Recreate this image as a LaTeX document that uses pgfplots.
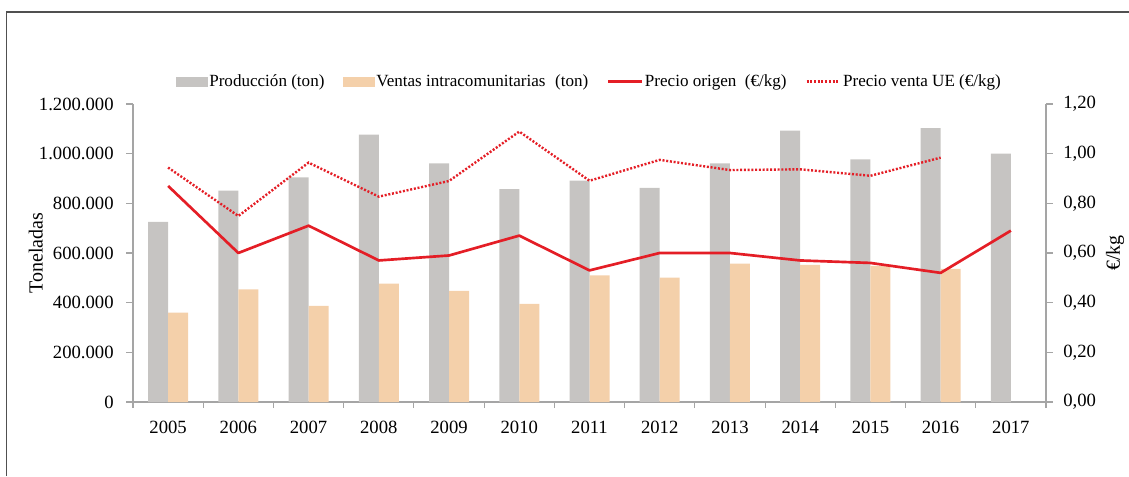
\documentclass[border=0pt]{standalone}
\usepackage{fontspec}
\setmainfont{Liberation Serif}
\usepackage{pgfplots}
\pgfplotsset{compat=1.18}
\usepackage{pgfplotstable}

\definecolor{prodgray}{RGB}{198,196,194}
\definecolor{ventas}{RGB}{244,208,170}
\definecolor{redline}{RGB}{228,30,38}
\definecolor{axgray}{RGB}{165,165,165}
\definecolor{framegray}{RGB}{80,80,80}

\pgfplotstableread{
x prod ventas origen venta
0  725000  360000 0.87 0.944
1  851000  454000 0.60 0.749
2  905000  387000 0.71 0.964
3  1077000 477000 0.57 0.827
4  961000  447000 0.59 0.890
5  857000  395000 0.67 1.089
6  891000  510000 0.53 0.891
7  862000  501000 0.60 0.975
8  961000  557000 0.60 0.934
9  1093000 552000 0.57 0.937
10 977000  548000 0.56 0.911
11 1103000 536000 0.52 0.984
12 1000000 nan    0.69 nan
}\data

\pgfplotsset{
  prodleg/.style={legend image code/.code={\fill[prodgray] (0pt,-3.4pt) rectangle (23pt,3.4pt);}},
  ventleg/.style={legend image code/.code={\fill[ventas] (0pt,-3.4pt) rectangle (23pt,3.4pt);}},
  origenstyle/.style={redline, line width=2pt, line join=round},
  ventastyle/.style={redline, line width=1.8pt, dash pattern=on 1.5pt off 1.3pt},
  common/.style={
    at={(99.75pt,55.5pt)}, anchor=south west,
    scale only axis, width=684.75pt, height=223.5pt,
    xmin=-0.5, xmax=12.5,
    tick align=outside,
    tick label style={font=\fontsize{14}{16}\selectfont},
    label style={font=\fontsize{15}{17}\selectfont},
  },
}

\begin{document}
\begin{tikzpicture}
\path[use as bounding box] (0,0) rectangle (846.75pt,357pt);
\draw[framegray, line width=1.2pt] (4.9pt,0pt) -- (4.9pt,348pt) -- (846.75pt,348pt);

\begin{axis}[
  common,
  ymin=0, ymax=1200000,
  ybar=0pt, bar width=15pt,
  axis x line*=bottom, axis y line*=left,
  axis line style={axgray, line width=0.8pt},
  every tick/.style={axgray, line width=0.8pt},
  xtick={0,...,12},
  xticklabels={2005,2006,2007,2008,2009,2010,2011,2012,2013,2014,2015,2016,2017},
  xticklabel style={yshift=-6pt},
  major x tick style={draw=none},
  minor xtick={-0.5,0.5,...,12.5},
  minor tick length=4.5pt,
  major tick length=5pt,
  ytick={0,200000,400000,600000,800000,1000000,1200000},
  scaled y ticks=false,
  yticklabel style={xshift=-6pt, /pgf/number format/.cd, fixed, 1000 sep={.}, assume math mode=true},
  ylabel={Toneladas},
  ylabel style={at={(axis description cs:-0.1066,0.5)}, anchor=center},
]
\addplot[fill=prodgray, draw=none] table[x=x, y=prod] {\data};
\addplot[fill=ventas, draw=none] table[x=x, y=ventas] {\data};
\end{axis}

\begin{axis}[
  common,
  ymin=0, ymax=1.2,
  axis x line=none, axis y line*=right,
  axis line style={axgray, line width=0.8pt},
  every tick/.style={axgray, line width=0.8pt},
  major tick length=5pt,
  ytick={0,0.2,0.4,0.6,0.8,1.0,1.2},
  yticklabel style={xshift=4.5pt, /pgf/number format/.cd, fixed, fixed zerofill, precision=2, use comma, assume math mode=true},
  ylabel={€/kg},
  ylabel style={at={(axis description cs:1.0756,0.5)}, anchor=center},
  legend image code/.code={\draw[#1] (0pt,0pt) -- (25pt,0pt);},
  legend style={at={(0.5,1)}, anchor=south, yshift=8pt, draw=none, fill=none,
    legend columns=-1, font=\fontsize{12.8}{14}\selectfont,
    nodes={inner sep=1.5pt},
    /tikz/every even column/.append style={column sep=12.5pt}},
]
\addlegendimage{prodleg}
\addlegendentry{Producción (ton)}
\addlegendimage{ventleg}
\addlegendentry{Ventas intracomunitarias\hspace{4pt} (ton)}
\addplot[origenstyle] table[x=x, y=origen] {\data};
\addlegendentry{Precio origen\ \ (€/kg)}
\addplot[ventastyle] table[x=x, y=venta] {\data};
\addlegendentry{Precio venta UE (€/kg)}
\end{axis}
\end{tikzpicture}
\end{document}
